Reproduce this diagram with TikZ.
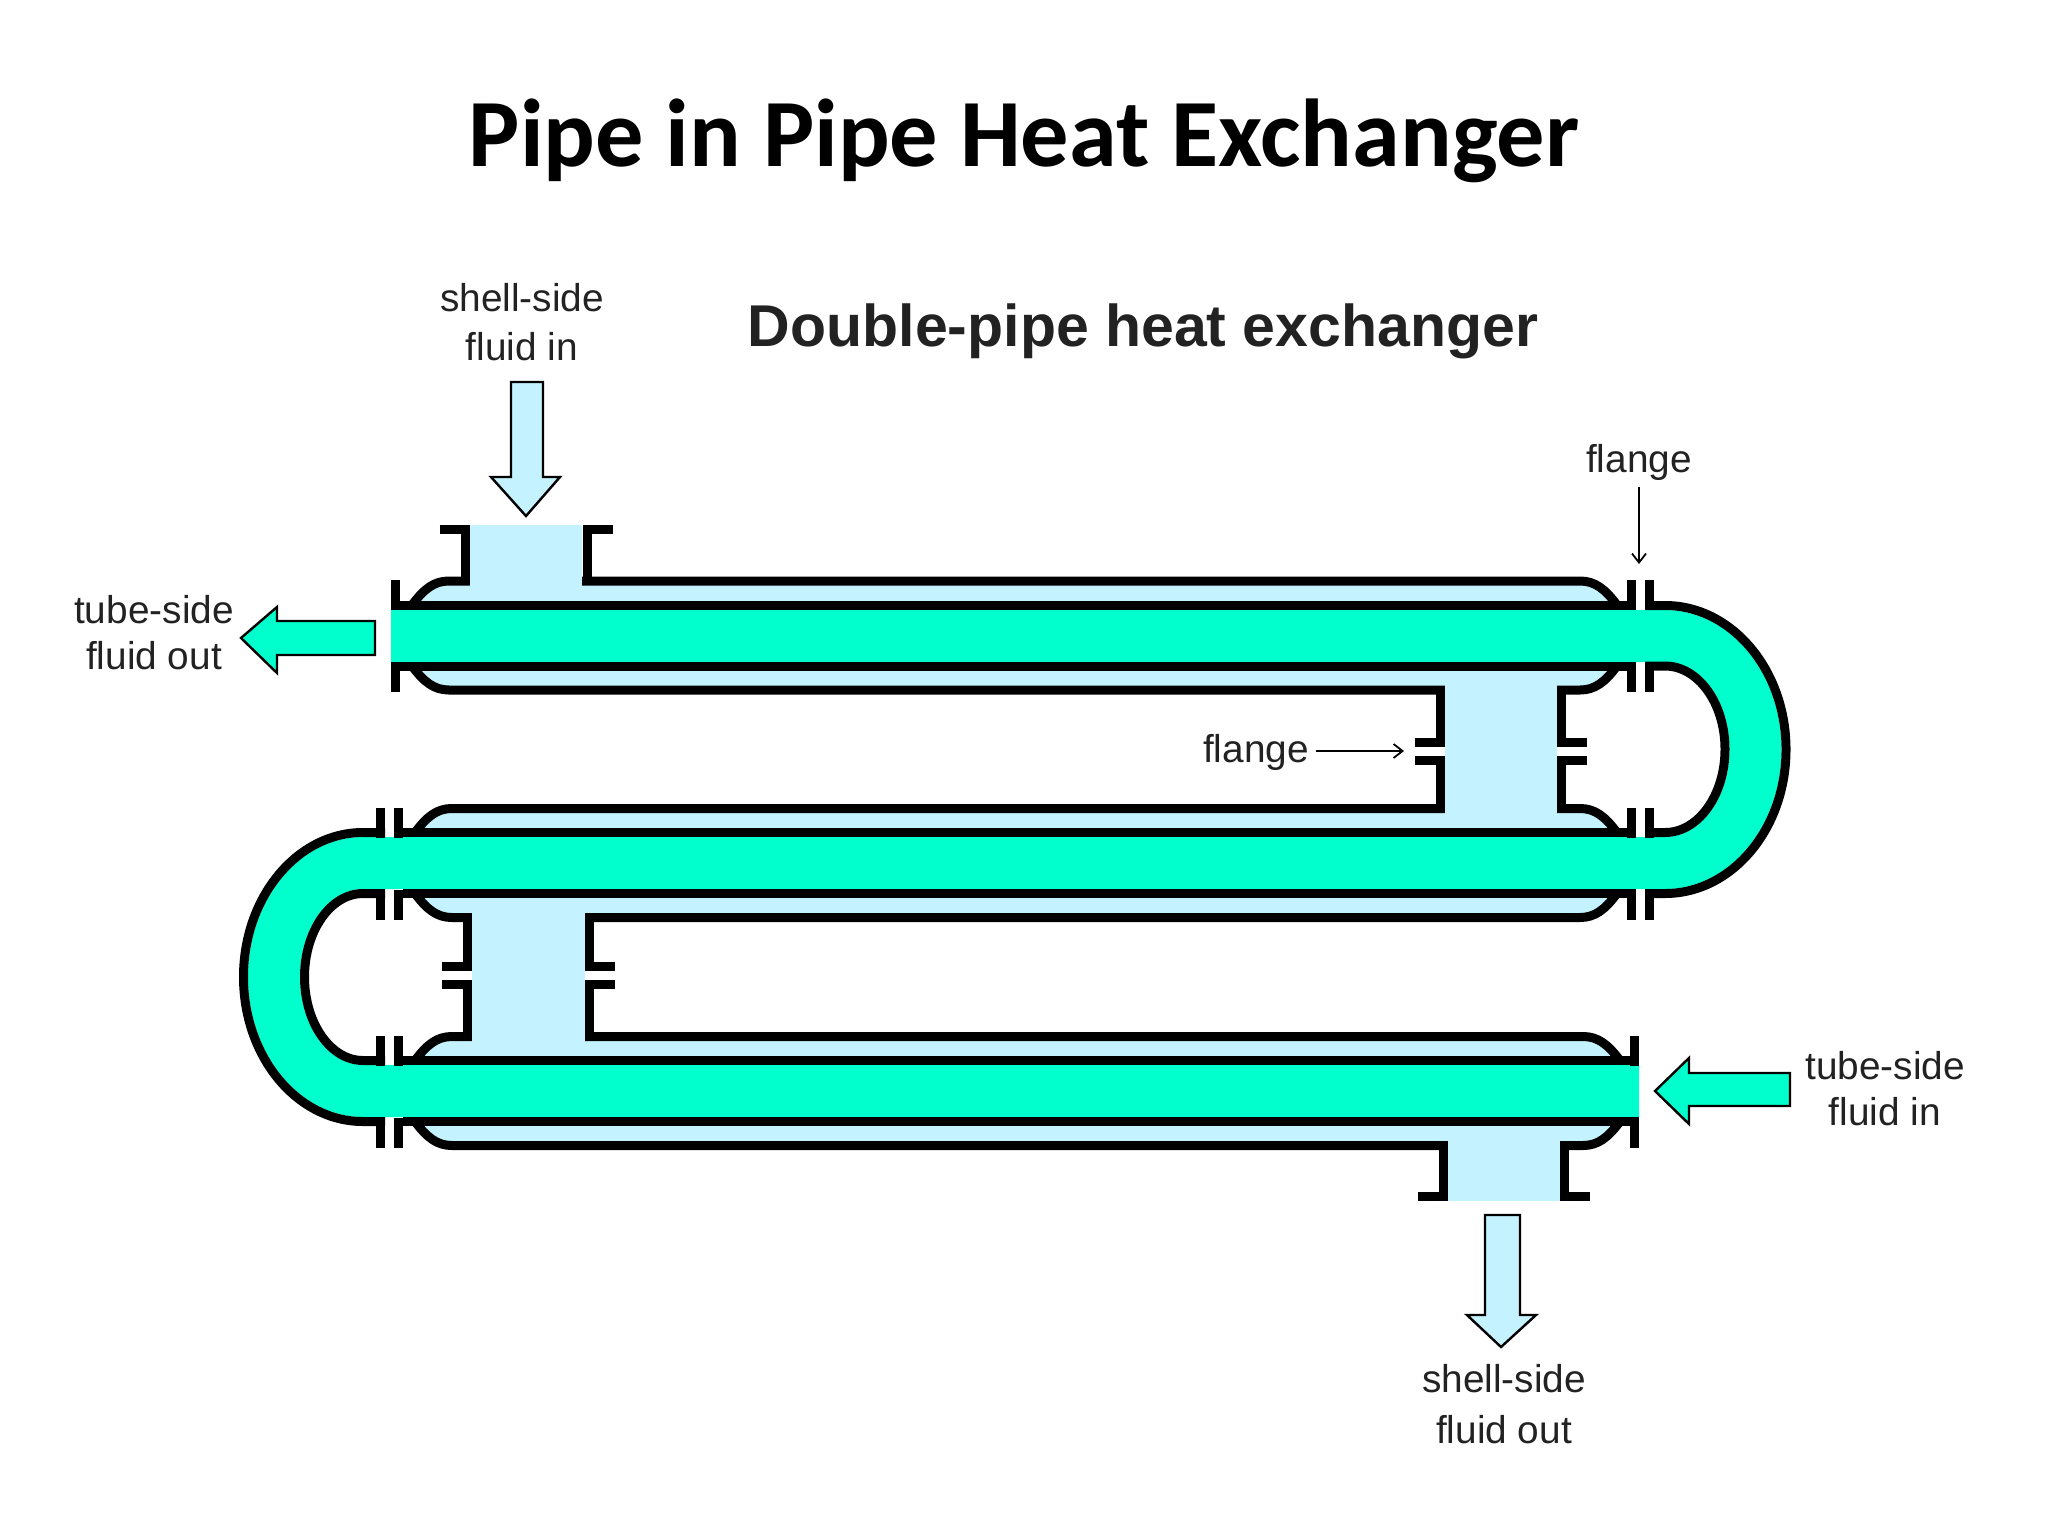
\documentclass[tikz,border=0pt]{standalone}
\usepackage{fontspec}
\usetikzlibrary{arrows.meta}
\setmainfont{Liberation Sans}
\newfontfamily\titlefont{Carlito}
\definecolor{shellblue}{HTML}{C4F3FF}
\definecolor{tubegreen}{HTML}{00FFCC}
\definecolor{labelgrey}{HTML}{222222}
\tikzset{
  pipeline/.style={line width=4.5pt,line cap=butt,miter limit=10},
  blockarrow/.style={draw=black,line width=1.2pt},
  pointer/.style={-{Straight Barb[length=4.5pt,width=7pt]},line width=0.9pt},
  flowlabel/.style={align=center,text=labelgrey,font=\fontsize{19.4}{23}\selectfont},
}
\newcommand{\flangepair}[4]{
  \draw [pipeline] (#1-25.5,#4) -- (#1,#4) -- (#1,#3);
  \draw [pipeline] (#2+25.5,#4) -- (#2,#4) -- (#2,#3);
}
\begin{document}
\begin{tikzpicture}[x=0.5pt,y=-0.5pt]
  \useasboundingbox (0,0) rectangle (2048,1536);
  \node at (1024,141) (title) {\titlefont\bfseries\fontsize{48.2}{58}\selectfont Pipe in Pipe Heat Exchanger};
  \node at (1143,331) (subtitle) {\bfseries\color{labelgrey}\fontsize{29.5}{35}\selectfont Double-pipe heat exchanger};
  % shell rows
  \foreach \y/\xa/\xb in {581/412/1617, 808.5/415/1617, 1036.5/415/1620} {
    \fill [shellblue] (\xa,\y+24) .. controls (\xa+12,\y+8) and (\xa+22,\y) .. (\xa+37,\y) -- (\xb-37,\y)
      .. controls (\xb-22,\y) and (\xb-12,\y+8) .. (\xb,\y+24) -- (\xb,\y+85)
      .. controls (\xb-12,\y+101) and (\xb-22,\y+109) .. (\xb-37,\y+109) -- (\xa+37,\y+109)
      .. controls (\xa+22,\y+109) and (\xa+12,\y+101) .. (\xa,\y+85) -- cycle;
    \draw [pipeline] (\xa,\y+24) .. controls (\xa+12,\y+8) and (\xa+22,\y) .. (\xa+37,\y) -- (\xb-37,\y)
      .. controls (\xb-22,\y) and (\xb-12,\y+8) .. (\xb,\y+24);
    \draw [pipeline] (\xa,\y+85) .. controls (\xa+12,\y+101) and (\xa+22,\y+109) .. (\xa+37,\y+109) -- (\xb-37,\y+109)
      .. controls (\xb-22,\y+109) and (\xb-12,\y+101) .. (\xb,\y+85);
  }
  % nozzles
  \fill [shellblue] (470,525) rectangle (582,601);
  \fill [shellblue] (1445,670) rectangle (1557,828);
  \fill [shellblue] (472,898) rectangle (585,1056);
  \fill [shellblue] (1448,1126) rectangle (1560,1201);
  \flangepair{465}{587}{581}{529.5}
  \flangepair{1440.5}{1561.5}{690}{742.5}
  \flangepair{1440.5}{1561.5}{808.5}{760.5}
  \flangepair{467.5}{589.5}{917.5}{966.5}
  \flangepair{467.5}{589.5}{1036.5}{984.5}
  \flangepair{1443.5}{1564.5}{1145.5}{1196.5}
  % tube
  \fill [tubegreen] (391,610) -- (1665,610) arc[start angle=-90,end angle=90,x radius=116.5,y radius=139.5]
    -- (363,889) arc[start angle=-90,end angle=-270,x radius=63,y radius=88]
    -- (1639,1065) -- (1639,1117) -- (363,1117) arc[start angle=90,end angle=270,x radius=115,y radius=140]
    -- (1665,837) arc[start angle=90,end angle=-90,x radius=64.5,y radius=87.5]
    -- (391,662) -- cycle;
  \draw [pipeline] (391,605.5) -- (1636,605.5);
  \draw [pipeline] (391,666) -- (1636,666);
  \draw [pipeline] (403,832.5) -- (1636,832.5);
  \draw [pipeline] (403,893.5) -- (1636,893.5);
  \draw [pipeline] (403,1060.5) -- (1639,1060.5);
  \draw [pipeline] (403,1121.5) -- (1639,1121.5);
  \draw [pipeline] (1645,605.5) -- (1665,605.5) arc[start angle=-90,end angle=90,x radius=121,y radius=144] -- (1645,893.5);
  \draw [pipeline] (1645,666) -- (1665,666) arc[start angle=-90,end angle=90,x radius=60,y radius=83.25] -- (1645,832.5);
  \draw [pipeline] (385,832.5) -- (363,832.5) arc[start angle=-90,end angle=-270,x radius=119.5,y radius=144.5] -- (385,1121.5);
  \draw [pipeline] (385,893.5) -- (363,893.5) arc[start angle=-90,end angle=-270,x radius=58.5,y radius=83.5] -- (385,1060.5);
  % flanges
  \foreach \x/\y in {395/581, 1631.5/581, 1649.5/581, 380.5/808.5, 398.5/808.5, 1631.5/808.5, 1649.5/808.5, 380.5/1036.5, 398.5/1036.5, 1634.5/1036.5} {
    \draw [pipeline] (\x,\y-1) -- (\x,\y+29);
    \draw [pipeline] (\x,\y+81) -- (\x,\y+111);
  }
  % flow arrows
  \draw [blockarrow,fill=shellblue] (511,382) -- (543,382) -- (543,477) -- (560,477) -- (526,516) -- (491,477) -- (511,477) -- cycle;
  \draw [blockarrow,fill=shellblue] (1485,1215) -- (1520,1215) -- (1520,1315) -- (1536,1315) -- (1501,1347) -- (1467,1315) -- (1485,1315) -- cycle;
  \draw [blockarrow,fill=tubegreen] (375,621) -- (375,655) -- (277,655) -- (277,673) -- (241,638) -- (277,607) -- (277,621) -- cycle;
  \draw [blockarrow,fill=tubegreen] (1790,1073) -- (1790,1106) -- (1689,1106) -- (1689,1124) -- (1655,1091) -- (1689,1058) -- (1689,1073) -- cycle;
  % labels
  \node [flowlabel] at (522,322) (shellin) {shell-side\\[1.5pt]fluid in};
  \node [flowlabel] at (154,633) (tubeout) {tube-side\\fluid out};
  \node [flowlabel] at (1885,1089) (tubein) {tube-side\\fluid in};
  \node [flowlabel] at (1504,1404) (shellout) {shell-side\\[2.5pt]fluid out};
  \node [flowlabel] at (1639,462) (flangetop) {flange};
  \node [flowlabel] at (1256,752) (flangemid) {flange};
  \coordinate (flangetoptip) at (1639,564);
  \coordinate (flangemidtip) at (1404,751);
  \draw [pointer] (flangetop.south -| flangetoptip) -- (flangetoptip);
  \draw [pointer] (flangemid.east |- flangemidtip) -- (flangemidtip);
\end{tikzpicture}
\end{document}
